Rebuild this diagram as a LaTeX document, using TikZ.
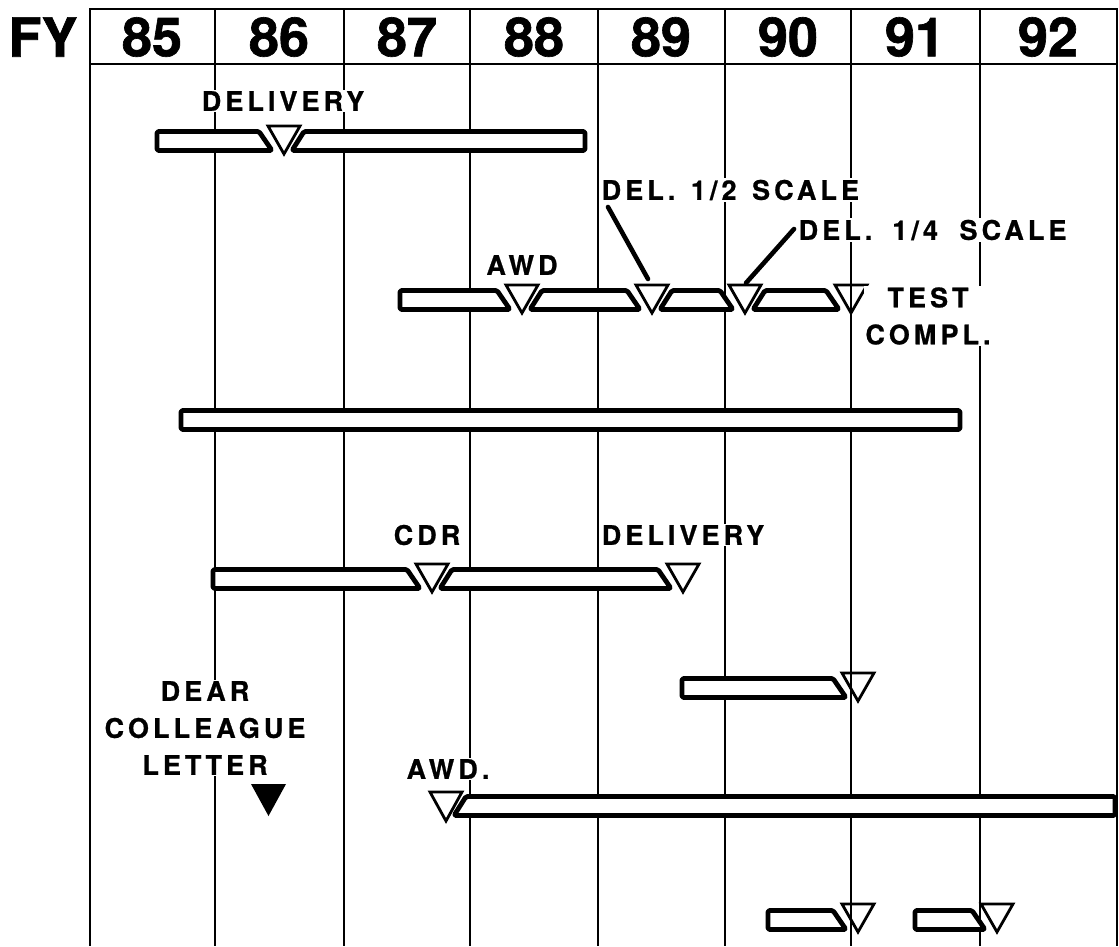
\documentclass[tikz,border=0pt]{standalone}
\usepackage{fontspec}
\setmainfont{TeX Gyre Heros}
\newfontfamily\lblfont[LetterSpace=15, BoldFeatures={FakeBold=0.8}]{TeX Gyre Heros}
\newfontfamily\hdrfont[BoldFeatures={FakeBold=1.2}]{TeX Gyre Heros}
\usetikzlibrary{calc, positioning}

\begin{document}
\begin{tikzpicture}[x=1pt, y=-1pt,
    gridline/.style={line width=1.8pt},
    hdrbox/.style={line width=2.4pt},
    bar/.style={line width=4.8pt, fill=white, rounded corners=1.5pt, line join=round},
    mile/.style={line width=2.8pt, line join=miter},
    leader/.style={line width=4.6pt, line cap=round},
    lbl/.style={font=\lblfont\bfseries\fontsize{27}{37}\selectfont, fill=white, inner sep=1.5pt, align=center},
    yrlbl/.style={font=\hdrfont\bfseries\fontsize{54}{54}\selectfont, inner sep=0pt}]
    \useasboundingbox (0,0) rectangle (1119,946);

    % Grid lines and header row
    \foreach \gx in {90,215,344,470,598,725,851,980,1117}
        \draw[gridline] (\gx,9) -- (\gx,946);
    \draw[hdrbox] (90,9) rectangle (1117,64);
    \node[yrlbl] (fy) at (43,37) {FY};
    \foreach \yr/\xc in {85/152,86/279,87/407,88/534,89/661,90/788,91/915,92/1048}
        \node[yrlbl] (y\yr) at (\xc,37) {\yr};

    % Row 1
    \draw[bar] (157,131.5) -- (259,131.5) -- (272,150.5) -- (157,150.5) -- cycle;
    \draw[bar] (304,131.5) -- (585,131.5) -- (585,150.5) -- (292,150.5) -- cycle;
    \draw[mile] (268,126) -- (300,126) -- (284,154) -- cycle;
    \node[lbl] (dlv1) at (283,101) {DELIVERY};

    % Row 2
    \draw[bar] (400,290.5) -- (497,290.5) -- (510,309.5) -- (400,309.5) -- cycle;
    \draw[bar] (542,290.5) -- (627,290.5) -- (640,309.5) -- (530,309.5) -- cycle;
    \draw[bar] (672,290.5) -- (720,290.5) -- (733,309.5) -- (660,309.5) -- cycle;
    \draw[bar] (765,290.5) -- (826,290.5) -- (839,309.5) -- (753,309.5) -- cycle;
    \foreach \c in {522,652,745,851}
        \draw[mile] (\c-16,285) -- (\c+16,285) -- (\c,313) -- cycle;
    \node[lbl] (awd1) at (522,265) {AWD};
    \node[lbl, anchor=west] (del2) at (600,190) {DEL.\hspace{4pt} 1/2\hspace{4pt} SCALE};
    \node[lbl, anchor=west] (del4) at (797,230) {DEL.\hspace{20pt}1/4\hspace{10pt} SCALE};
    \node[lbl] (test) at (928,316) {TEST\\COMPL.};
    \coordinate (h2a) at (608,207);
    \coordinate (h2b) at (648,279);
    \coordinate (h4a) at (794,229);
    \coordinate (h4b) at (746,283);
    \draw[leader] (h2a) -- (h2b);
    \draw[leader] (h4a) -- (h4b);

    % Row 3
    \draw[bar] (181,410.5) rectangle (960,429.5);

    % Row 4
    \draw[bar] (213,569.5) -- (407,569.5) -- (420,588.5) -- (213,588.5) -- cycle;
    \draw[bar] (452,569.5) -- (658,569.5) -- (671,588.5) -- (440,588.5) -- cycle;
    \foreach \c in {432,683}
        \draw[mile] (\c-16,564) -- (\c+16,564) -- (\c,592) -- cycle;
    \node[lbl] (cdr) at (427,535) {CDR};
    \node[lbl] (dlv2) at (683,535) {DELIVERY};

    % Row 5
    \draw[bar] (682,678.5) -- (833,678.5) -- (846,697.5) -- (682,697.5) -- cycle;
    \draw[mile] (842,673) -- (874,673) -- (858,701) -- cycle;

    % Row 6
    \node[lbl] (dear) at (205,728) {DEAR\\COLLEAGUE\\LETTER};
    \fill (251,784) -- (286,784) -- (268.5,816) -- cycle;
    \draw[bar] (466,796.5) -- (1115,796.5) -- (1115,815.5) -- (454,815.5) -- cycle;
    \draw[mile] (430,792) -- (462,792) -- (446,821) -- cycle;
    \node[lbl] (awd2) at (448,769) {AWD.};

    % Row 7
    \draw[bar] (768,910.5) -- (833,910.5) -- (846,929.5) -- (768,929.5) -- cycle;
    \draw[bar] (915,910.5) -- (972,910.5) -- (985,929.5) -- (915,929.5) -- cycle;
    \foreach \c in {858,997}
        \draw[mile] (\c-16,904) -- (\c+16,904) -- (\c,932) -- cycle;
\end{tikzpicture}
\end{document}
